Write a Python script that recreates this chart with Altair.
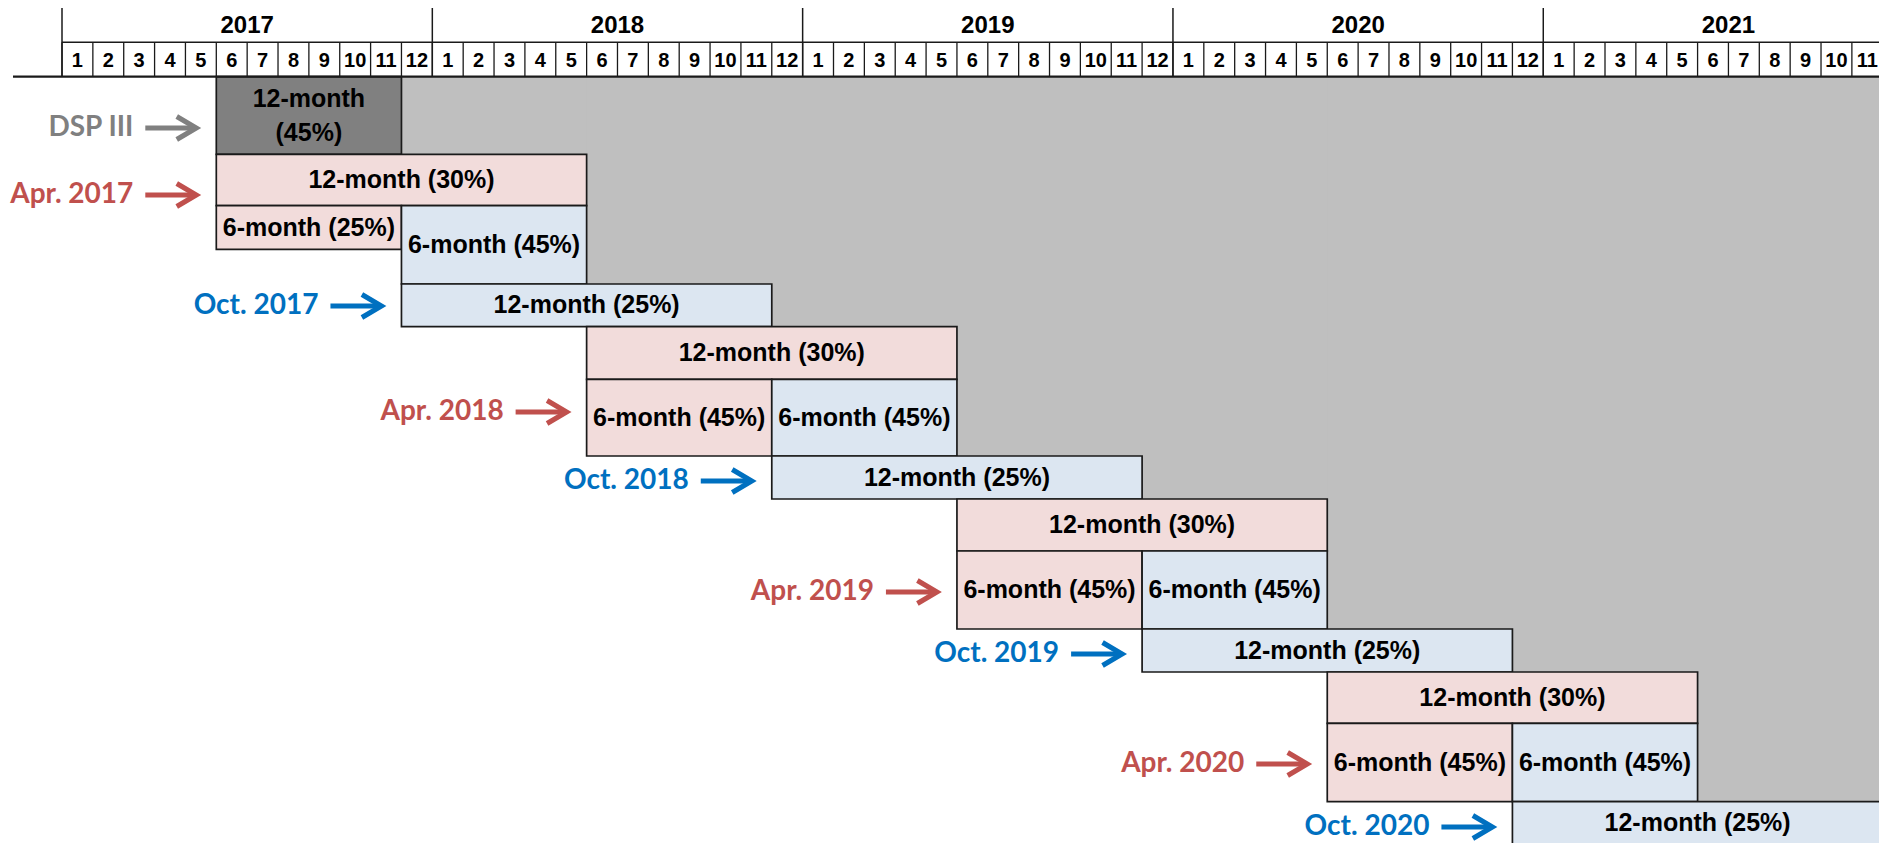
import altair as alt
import pandas as pd

# ---------------- data ----------------
YEARS = [2017, 2018, 2019, 2020, 2021]
MONTH_NUMBERS = list(range(1, 13))

BOX_TEXT = ["12-month\n(45%)", "12-month (30%)", "6-month (25%)", "6-month (45%)",
            "12-month (25%)", "12-month (30%)", "6-month (45%)", "6-month (45%)",
            "12-month (25%)", "12-month (30%)", "6-month (45%)", "6-month (45%)",
            "12-month (25%)", "12-month (30%)", "6-month (45%)", "6-month (45%)",
            "12-month (25%)"]
BOX_START = [5, 5, 5, 11, 11, 17, 17, 23, 23, 29, 29, 35, 35, 41, 41, 47, 47]   # months after Jan 2017
BOX_MONTHS = [6, 12, 6, 6, 12, 12, 6, 6, 12, 12, 6, 6, 12, 12, 6, 6, 12]
BOX_SERIES = ["DSP III", "Apr", "Apr", "Oct", "Oct", "Apr", "Apr", "Oct", "Oct",
              "Apr", "Apr", "Oct", "Oct", "Apr", "Apr", "Oct", "Oct"]
BOX_ROW_FIRST = [0, 1, 2, 2, 4, 5, 6, 6, 7, 8, 9, 9, 10, 11, 12, 12, 13]
BOX_ROW_LAST = [0, 1, 2, 3, 4, 5, 6, 6, 7, 8, 9, 9, 10, 11, 12, 12, 13]

LABEL_TEXT = ["DSP III", "Apr. 2017", "Oct. 2017", "Apr. 2018", "Oct. 2018",
              "Apr. 2019", "Oct. 2019", "Apr. 2020", "Oct. 2020"]
LABEL_START = [5, 5, 11, 17, 23, 29, 35, 41, 47]
LABEL_SERIES = ["DSP III", "Apr", "Oct", "Apr", "Oct", "Apr", "Oct", "Apr", "Oct"]

# ---------------- layout / style ----------------
W, H = 1871, 835
MONTH_PX = 30.86
X0 = -54.0 / MONTH_PX
X_DOMAIN = [X0, X0 + W / MONTH_PX]
Y_DOMAIN = [8, 8 + H]
HEADER_TOP, HEADER_MID, HEADER_BOTTOM = 6.7, 42.3, 76.7
ROW_HEIGHTS = [77.6, 51.4, 43.6, 34.7, 42.7, 52.6, 76.7, 43.0, 52.0, 78.0, 43.0, 51.3, 78.4, 43.0]
LABEL_Y = [128, 195, 306, 412, 481, 592, 654, 764, 827]
LINE_H = 34

FILL = {"DSP III": "#808080", "Apr": "#F2DCDB", "Oct": "#DCE6F1"}
INK = {"DSP III": "#808080", "Apr": "#C0504D", "Oct": "#0070C0"}
GRAY = "#BFBFBF"
LINE = "#1a1a1a"

row_edges = [HEADER_BOTTOM]
for h in ROW_HEIGHTS:
    row_edges.append(row_edges[-1] + h)

xs = alt.Scale(domain=X_DOMAIN, nice=False, zero=False)
ys = alt.Scale(domain=Y_DOMAIN, nice=False, zero=False, reverse=True)

boxes = pd.DataFrame({
    "text": BOX_TEXT,
    "x0": BOX_START,
    "x1": [s + d for s, d in zip(BOX_START, BOX_MONTHS)],
    "y0": [row_edges[r] for r in BOX_ROW_FIRST],
    "y1": [row_edges[r + 1] for r in BOX_ROW_LAST],
    "fill": [FILL[s] for s in BOX_SERIES],
})
boxes["xm"] = (boxes["x0"] + boxes["x1"]) / 2
boxes["ym"] = (boxes["y0"] + boxes["y1"]) / 2
boxes["xr"] = X_DOMAIN[1]
boxes["ytop"] = HEADER_BOTTOM

# one row per text line, centred as a block in its box
line_rows = []
for _, b in boxes.iterrows():
    parts = b["text"].split("\n")
    n = len(parts)
    for i, p in enumerate(parts):
        line_rows.append({"t": p, "x": b["xm"], "y": b["ym"] + (i - (n - 1) / 2) * LINE_H})
box_lines = pd.DataFrame(line_rows)

labels = pd.DataFrame({
    "text": LABEL_TEXT,
    "x": LABEL_START,
    "y": LABEL_Y,
    "ink": [INK[s] for s in LABEL_SERIES],
})

months = pd.DataFrame({
    "m": list(range(len(YEARS) * 12)),
    "num": [str(n) for _ in YEARS for n in MONTH_NUMBERS],
})
months["mc"] = months["m"] + 0.5
months["y0"] = HEADER_MID
months["y1"] = HEADER_BOTTOM
months["yc"] = (HEADER_MID + HEADER_BOTTOM) / 2 + 1
months = months[months["m"] < X_DOMAIN[1]]          # columns inside the view
month_labels = months[months["mc"] < X_DOMAIN[1] - 0.3]

years = pd.DataFrame({"year": [str(y) for y in YEARS],
                      "x0": [12 * i for i in range(len(YEARS))]})
years["xc"] = years["x0"] + 6
years["y0"] = HEADER_TOP
years["y1"] = HEADER_BOTTOM
years["yc"] = (HEADER_TOP + HEADER_MID) / 2 + 1
hlines = pd.DataFrame({"y": [HEADER_TOP, HEADER_BOTTOM]})
midline = pd.DataFrame({"y": [HEADER_MID], "x0": [0], "x1": [X_DOMAIN[1]]})


def X(f):
    return alt.X(f, type="quantitative", scale=xs, axis=None)


def Y(f):
    return alt.Y(f, type="quantitative", scale=ys, axis=None)


gray = alt.Chart(boxes).mark_rect(color=GRAY, clip=True).encode(
    x=X("x1"), x2="xr", y=Y("ytop"), y2="y1")

rects = alt.Chart(boxes).mark_rect(stroke=LINE, strokeWidth=1.7, clip=True).encode(
    x=X("x0"), x2="x1", y=Y("y0"), y2="y1", fill=alt.Fill("fill:N", scale=None))

box_text = alt.Chart(box_lines).mark_text(
    font="Liberation Sans", fontWeight="bold", fontSize=25, color="#000000",
    baseline="middle", align="center", clip=True
).encode(x=X("x"), y=Y("y"), text="t:N")

month_lines = alt.Chart(months).mark_rule(color=LINE, strokeWidth=1.3, clip=True).encode(
    x=X("m"), y=Y("y0"), y2="y1")

year_lines = alt.Chart(years).mark_rule(color=LINE, strokeWidth=1.5, clip=True).encode(
    x=X("x0"), y=Y("y0"), y2="y1")

h_lines = alt.Chart(hlines).mark_rule(color=LINE, strokeWidth=2.2).encode(
    x=alt.value(5), x2=alt.value(W), y=Y("y"))

mid_line = alt.Chart(midline).mark_rule(color=LINE, strokeWidth=1.6).encode(
    x=X("x0"), x2="x1", y=Y("y"))

month_text = alt.Chart(month_labels).mark_text(
    font="Liberation Sans", fontWeight="bold",
    fontSize=20, color="#000000", baseline="middle", align="center", clip=True
).encode(x=X("mc"), y=Y("yc"), text="num:N")

year_text = alt.Chart(years).mark_text(
    font="Liberation Sans", fontWeight="bold", fontSize=24, color="#000000",
    baseline="middle", align="center", clip=True
).encode(x=X("xc"), y=Y("yc"), text="year:N")

label_text = alt.Chart(labels).mark_text(
    font="Lato", fontWeight="bold", fontSize=28, baseline="middle", align="right", xOffset=-83
).encode(x=X("x"), y=Y("y"), text="text:N", color=alt.Color("ink:N", scale=None))

arrow_shaft = alt.Chart(labels).mark_rule(strokeWidth=5, xOffset=-71, x2Offset=-24).encode(
    x=X("x"), x2="x", y=Y("y"), color=alt.Color("ink:N", scale=None))

arrow_head = alt.Chart(labels).mark_point(
    shape="M-1.7,-1L0,0L-1.7,1", size=529, filled=False, strokeWidth=5,
    strokeJoin="miter", opacity=1, xOffset=-20
).encode(x=X("x"), y=Y("y"), color=alt.Color("ink:N", scale=None))

chart = alt.layer(
    gray, rects, box_text, month_lines, year_lines, h_lines, mid_line,
    month_text, year_text, arrow_shaft, arrow_head, label_text
).properties(
    width=W, height=H, padding=0, autosize=alt.AutoSizeParams(type="none"),
    background="#ffffff"
).configure_view(stroke=None)

chart.save("out.html", embed_options={"renderer": "svg", "actions": False})
